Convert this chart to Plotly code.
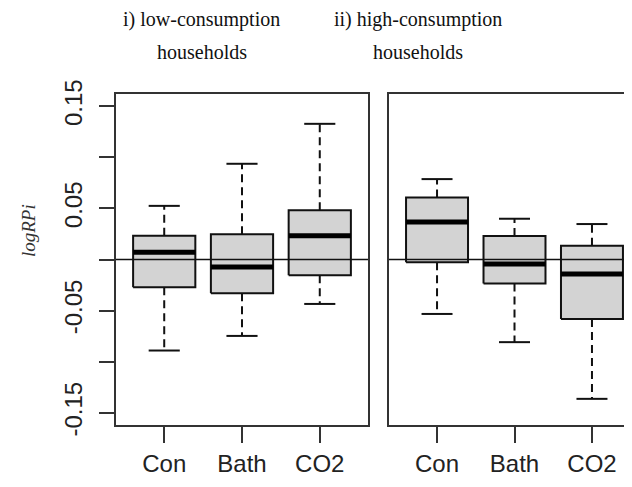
import plotly.graph_objects as go

# ---- data ----
categories = ["Con", "Bath", "CO2"]
panel_titles = [["i) low-consumption", "households"],
                ["ii) high-consumption", "households"]]
y_tick_vals = [-0.15, -0.10, -0.05, 0.0, 0.05, 0.10, 0.15]
y_tick_text = ["-0.15", "", "-0.05", "", "0.05", "", "0.15"]

# low-consumption households
low_lower = [-0.0891, -0.0748, -0.0435]
low_q1 = [-0.0272, -0.0331, -0.0155]
low_median = [0.0070, -0.0073, 0.0233]
low_q3 = [0.0233, 0.0246, 0.0481]
low_upper = [0.0525, 0.0937, 0.1328]

# high-consumption households
high_lower = [-0.0533, -0.0809, -0.1364]
high_q1 = [-0.0028, -0.0236, -0.0582]
high_median = [0.0367, -0.0044, -0.0142]
high_q3 = [0.0608, 0.0230, 0.0135]
high_upper = [0.0787, 0.0399, 0.0347]

panels = [
    (low_lower, low_q1, low_median, low_q3, low_upper),
    (high_lower, high_q1, high_median, high_q3, high_upper),
]

BOX_HALF = 0.4
CAP_HALF = 0.2
FILL = "#d3d3d3"
INK = "#111111"
FRAME = "#333333"

fig = go.Figure()

for p, (lo, q1, med, q3, hi) in enumerate(panels):
    xa = "x" if p == 0 else "x2"
    ya = "y" if p == 0 else "y2"
    for i, _ in enumerate(categories):
        c = i + 1
        # dashed whiskers
        fig.add_trace(go.Scatter(
            x=[c, c, None, c, c], y=[q3[i], hi[i], None, q1[i], lo[i]],
            mode="lines", line=dict(color=INK, width=2, dash="8px,5px"),
            xaxis=xa, yaxis=ya, hoverinfo="skip"))
        # caps
        fig.add_trace(go.Scatter(
            x=[c - CAP_HALF, c + CAP_HALF, None, c - CAP_HALF, c + CAP_HALF],
            y=[hi[i], hi[i], None, lo[i], lo[i]],
            mode="lines", line=dict(color=INK, width=2),
            xaxis=xa, yaxis=ya, hoverinfo="skip"))
        # box
        fig.add_trace(go.Scatter(
            x=[c - BOX_HALF, c + BOX_HALF, c + BOX_HALF, c - BOX_HALF, c - BOX_HALF],
            y=[q1[i], q1[i], q3[i], q3[i], q1[i]],
            mode="lines", fill="toself", fillcolor=FILL,
            line=dict(color=INK, width=2),
            xaxis=xa, yaxis=ya, hoverinfo="skip"))
        # median
        fig.add_trace(go.Scatter(
            x=[c - BOX_HALF, c + BOX_HALF], y=[med[i], med[i]],
            mode="lines", line=dict(color="#000000", width=5),
            xaxis=xa, yaxis=ya, hoverinfo="skip"))

# zero reference lines
for xr, yr in (("x domain", "y"), ("x2 domain", "y2")):
    fig.add_shape(type="line", xref=xr, yref=yr, x0=0, x1=1, y0=0, y1=0,
                  line=dict(color=INK, width=1.5), layer="above")

tick_font = dict(family="Liberation Sans, Arial, sans-serif", size=24, color="#222222")
yrange = [-0.162, 0.162]
xrange_ = [0.38, 3.62]

common_x = dict(tickvals=[1, 2, 3], ticktext=categories, ticks="outside",
                ticklen=16, tickwidth=1.5, tickcolor=FRAME, showline=True,
                mirror=True, linecolor=FRAME, linewidth=1.5, showgrid=False,
                zeroline=False, tickfont=tick_font, fixedrange=True,
                automargin=False, range=xrange_)

fig.update_layout(
    template="none",
    width=632, height=487,
    margin=dict(l=108, r=0, t=86, b=70, pad=0),
    paper_bgcolor="white", plot_bgcolor="white",
    showlegend=False,
    xaxis=dict(domain=[0, 0.4809], anchor="y", **common_x),
    xaxis2=dict(domain=[0.521, 1], anchor="y2", **common_x),
    yaxis=dict(domain=[0, 1], range=yrange, anchor="x",
               tickvals=y_tick_vals, ticktext=y_tick_text, tickangle=-90,
               ticks="outside", ticklen=15, tickwidth=1.5, tickcolor=FRAME,
               ticklabelstandoff=8,
               showline=True, mirror=True, linecolor=FRAME, linewidth=1.5,
               showgrid=False, zeroline=False, tickfont=tick_font,
               automargin=False),
    yaxis2=dict(domain=[0, 1], range=yrange, anchor="x2",
                showticklabels=False, ticks="", showline=True, mirror=True,
                linecolor=FRAME, linewidth=1.5, showgrid=False, zeroline=False,
                automargin=False),
)

title_font = dict(family="Liberation Serif, Times New Roman, serif", size=20, color="#111111")
title_x = [0.1641, 0.5763]
for p, lines in enumerate(panel_titles):
    for j, txt in enumerate(lines):
        fig.add_annotation(text=txt, xref="paper", yref="paper",
                           x=title_x[p], y=[1.2236, 1.127][j],
                           xanchor="center", yanchor="middle",
                           showarrow=False, font=title_font)

fig.add_annotation(text="<i>logRPi</i>", xref="paper", yref="paper",
                   x=-0.1679, y=0.586, xanchor="center", yanchor="middle",
                   textangle=-90, showarrow=False,
                   font=dict(family="Liberation Serif, Times New Roman, serif",
                             size=19, color="#333333"))

fig.write_html("out.html")
